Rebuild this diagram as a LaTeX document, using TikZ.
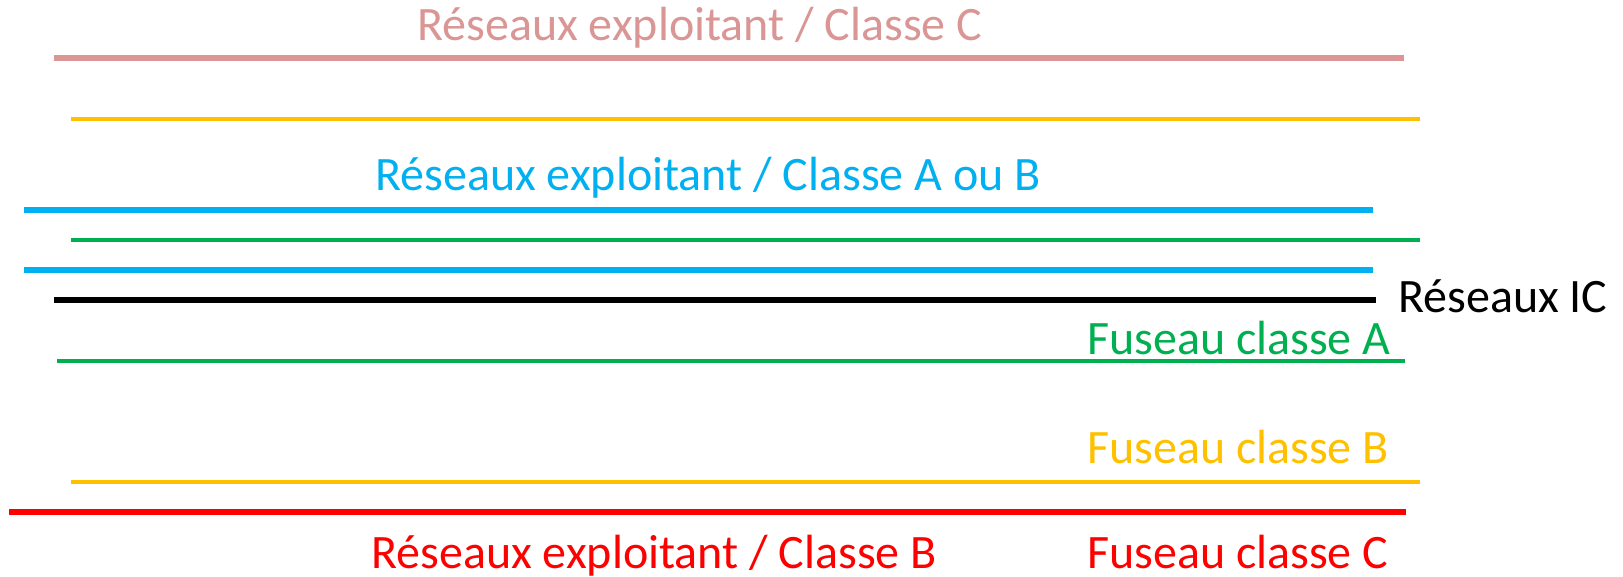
\documentclass[tikz,border=0pt]{standalone}
\usepackage{fontspec}
\setmainfont{Carlito}
\definecolor{cpink}{HTML}{D99694}
\definecolor{cyellow}{HTML}{FFC000}
\definecolor{cblue}{HTML}{00B0F0}
\definecolor{cgreen}{HTML}{00B050}
\definecolor{cred}{HTML}{FF0000}
\begin{document}
\begin{tikzpicture}[x=1pt,y=-1pt,
  lbl/.style={anchor=base west,inner sep=0pt,font=\fontsize{48}{57}\selectfont},
  thick6/.style={line width=6pt},
  thick4/.style={line width=4pt}]
\useasboundingbox (0,0) rectangle (1623,577);
% lines
\draw[cpink,thick6] (54,58) -- (1404,58);
\draw[cyellow,thick4] (71,119) -- (1420,119);
\draw[cblue,thick6] (24,210) -- (1373,210);
\draw[cgreen,thick4] (71,240) -- (1420,240);
\draw[cblue,thick6] (24,270) -- (1373,270);
\draw[black,thick6] (54,300) -- (1376,300);
\draw[cgreen,thick4] (57,361) -- (1405,361);
\draw[cyellow,thick4] (71,482) -- (1420,482);
\draw[cred,thick6] (9,512) -- (1406,512);
% labels
\node[lbl,text=cpink] (tC) at (417,41) {Réseaux exploitant / Classe C};
\node[lbl,text=cblue] (tAB) at (375,191) {Réseaux exploitant / Classe A ou B};
\node[lbl,text=black] (tIC) at (1398,313) {Réseaux IC};
\node[lbl,text=cgreen] (fA) at (1087,355) {Fuseau classe A};
\node[lbl,text=cyellow] (fB) at (1087,463) {Fuseau classe B};
\node[lbl,text=cred] (tB) at (371,568) {Réseaux exploitant / Classe B};
\node[lbl,text=cred] (fC) at (1087,568) {Fuseau classe C};
\end{tikzpicture}
\end{document}
